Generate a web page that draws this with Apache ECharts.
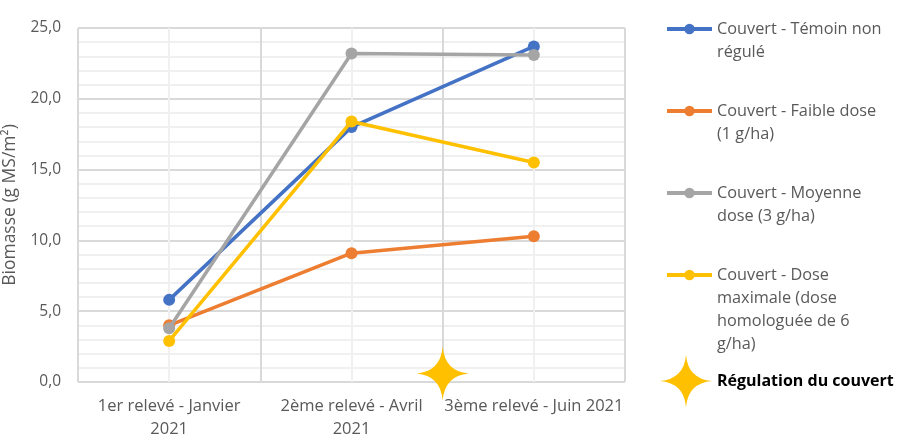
<!DOCTYPE html>
<html>
<head>
<meta charset="utf-8">
<script src="https://cdn.jsdelivr.net/npm/echarts@6/dist/echarts.min.js"></script>
<style>
  html, body { margin: 0; padding: 0; background: #fff; }
  #main { width: 919px; height: 447px; }
</style>
</head>
<body>
<div id="main"></div>
<script>
var categories = ['1er relevé - Janvier\n2021', '2ème relevé - Avril\n2021', '3ème relevé - Juin 2021'];
var seriesNames = [
  'Couvert - Témoin non régulé',
  'Couvert - Faible dose (1 g/ha)',
  'Couvert - Moyenne dose (3 g/ha)',
  'Couvert - Dose maximale (dose homologuée de 6 g/ha)'
];
var legendLines = [
  ['Couvert - Témoin non', 'régulé'],
  ['Couvert - Faible dose', '(1 g/ha)'],
  ['Couvert - Moyenne', 'dose (3 g/ha)'],
  ['Couvert - Dose', 'maximale (dose', 'homologuée de 6', 'g/ha)']
];
var temoin = [5.8, 18.0, 23.7];
var faible = [4.0, 9.1, 10.3];
var moyenne = [3.8, 23.2, 23.1];
var maximale = [2.9, 18.4, 15.5];
var colors = ['#4472C4', '#ED7D31', '#A5A5A5', '#FFC000'];
var regulationName = 'Régulation du couvert';
var regulationPoint = [[2, 0.6]]; // between 2nd and 3rd relevé
var yTicks = [0, 5, 10, 15, 20, 25];

var starPath = 'path://M50 0 Q54 46 100 50 Q54 54 50 100 Q46 54 0 50 Q46 46 50 0 Z';
var values = [temoin, faible, moyenne, maximale];
var legendTops = [29, 111, 193, 275];
var LH = 23;
var textGrey = '#595959';

var chartDom = document.getElementById('main');
var myChart = echarts.init(chartDom);

var series = values.map(function (v, i) {
  return {
    name: seriesNames[i],
    type: 'line',
    data: v,
    xAxisIndex: 0,
    symbol: 'circle',
    symbolSize: 12,
    lineStyle: { width: 3.5, color: colors[i] },
    itemStyle: { color: colors[i] },
    z: 3 + i
  };
});
series.push({
  name: regulationName,
  type: 'scatter',
  xAxisIndex: 1,
  data: regulationPoint,
  symbol: starPath,
  symbolSize: [52, 54],
  itemStyle: { color: '#FFC000', opacity: 1 },
  z: 10
});

// blank lines above keep the first text line level with the icon
var legends = legendLines.map(function (lines, i) {
  var n = lines.length;
  var pad = new Array(n).join('\n');
  return {
    orient: 'vertical',
    left: 665,
    top: legendTops[i] - (2 * n - 1) * LH / 2,
    padding: 0,
    itemWidth: 45,
    itemHeight: 13,
    selectedMode: false,
    data: [seriesNames[i]],
    lineStyle: { width: 4 },
    formatter: function () { return pad + lines.join('\n'); },
    textStyle: {
      fontFamily: 'Open Sans',
      fontSize: 16.3,
      color: textGrey,
      lineHeight: LH
    }
  };
});
legends.push({
  orient: 'vertical',
  left: 660,
  top: 381 - 26,
  padding: 0,
  itemWidth: 52,
  itemHeight: 52,
  selectedMode: false,
  data: [{ name: regulationName, icon: starPath, itemStyle: { opacity: 1 } }],
  textStyle: {
    fontFamily: 'Open Sans',
    fontSize: 16,
    fontWeight: 'bold',
    color: '#000'
  }
});

var option = {
  animation: false,
  grid: { left: 78, right: 294, top: 28, bottom: 65, outerBoundsMode: 'none', containLabel: false },
  legend: legends,
  xAxis: [{
    type: 'category',
    data: categories,
    boundaryGap: true,
    axisLine: { show: false },
    axisTick: { show: false },
    splitLine: { show: false },
    axisLabel: {
      interval: 0,
      margin: 13,
      fontFamily: 'Open Sans',
      fontSize: 16.5,
      lineHeight: LH,
      color: textGrey
    }
  }, {
    type: 'value',
    min: 0,
    max: 3,
    interval: 1,
    position: 'bottom',
    axisLine: { show: false },
    axisTick: { show: false },
    axisLabel: { show: false },
    splitLine: { show: true, lineStyle: { color: '#d9d9d9', width: 2 } },
    minorTick: { show: false, splitNumber: 2 },
    minorSplitLine: { show: true, lineStyle: { color: '#f0f0f0', width: 2 } }
  }],
  yAxis: {
    type: 'value',
    min: yTicks[0],
    max: yTicks[yTicks.length - 1],
    interval: 5,
    name: 'Biomasse (g MS/m²)',
    nameLocation: 'middle',
    nameGap: 58,
    nameTextStyle: { fontFamily: 'Open Sans', fontSize: 17.5, color: textGrey },
    axisLine: { show: false },
    axisTick: { show: false },
    axisLabel: {
      margin: 17,
      fontFamily: 'Open Sans',
      fontSize: 15.5,
      color: textGrey,
      formatter: function (v) { return v.toFixed(1).replace('.', ','); }
    },
    splitLine: { show: true, lineStyle: { color: '#d9d9d9', width: 2 } },
    minorTick: { show: false, splitNumber: 5 },
    minorSplitLine: { show: true, lineStyle: { color: '#f0f0f0', width: 2 } }
  },
  series: series
};

option && myChart.setOption(option);
</script>
</body>
</html>
